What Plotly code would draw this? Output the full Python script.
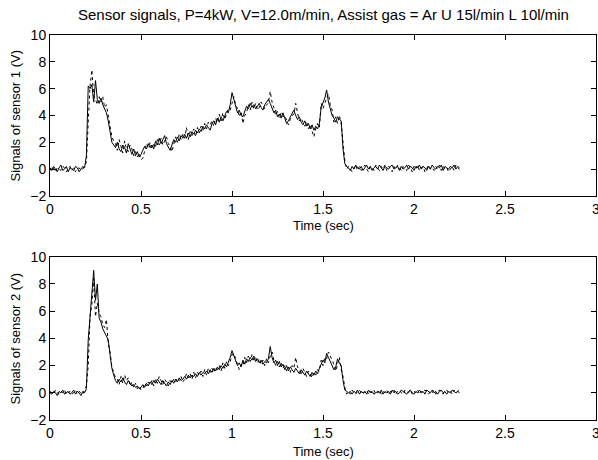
import numpy as np
import plotly.graph_objects as go
from plotly.subplots import make_subplots

# sample step 0.01 s, starting at 0.00 s (rows of 10 = 0.1 s)
s1_solid = [
    0.1,-0.1,0.2,0.0,-0.2,0.1,0.3,-0.1,0.0,0.2,
    -0.2,0.1,0.0,-0.1,0.2,0.1,-0.2,0.0,0.2,0.1,
    1.0,6.2,6.0,6.3,5.0,6.6,5.2,4.9,5.3,4.8,
    4.5,4.2,3.6,2.8,2.0,1.8,1.6,2.0,1.5,1.3,
    1.8,1.6,1.2,1.9,1.4,1.1,1.5,1.0,1.3,0.9,
    1.1,1.4,1.7,1.5,1.9,1.6,1.8,1.5,2.1,1.8,
    2.3,1.9,2.2,2.5,1.9,1.6,1.4,1.8,2.2,2.0,
    2.4,2.1,2.5,2.3,2.6,2.3,2.7,2.4,2.8,2.6,
    2.9,2.7,3.0,2.8,3.2,3.0,3.3,3.1,2.9,3.4,
    3.6,3.3,3.8,3.5,3.9,3.6,4.0,4.3,4.2,4.8,
    5.7,5.2,4.6,4.2,4.4,4.0,3.9,4.3,4.7,4.5,
    4.9,4.6,4.8,4.5,4.7,4.9,4.6,4.4,4.8,5.0,
    5.2,4.9,4.5,4.2,4.4,3.9,4.1,3.8,4.2,3.7,
    3.4,3.6,3.9,4.2,4.4,4.0,3.7,3.9,3.5,3.3,
    3.6,3.2,3.4,3.0,3.3,2.9,3.2,3.0,3.4,4.6,
    4.9,5.3,5.9,5.0,4.5,4.0,3.8,3.5,3.9,3.7,
    3.6,1.5,0.4,0.2,0.1,-0.1,0.2,0.0,0.3,0.1,
    0.0,0.2,-0.1,0.1,0.3,0.0,0.2,-0.1,0.1,0.2,
    0.0,0.3,0.1,-0.1,0.2,0.1,0.0,0.2,0.3,0.0,
    0.1,0.2,-0.1,0.2,0.0,0.1,0.3,0.0,0.2,0.1,
    -0.1,0.2,0.1,0.3,0.0,0.2,0.1,-0.1,0.2,0.0,
    0.3,0.1,0.0,0.2,0.1,0.3,-0.1,0.2,0.1,0.0,
    0.2,0.1,0.3,0.0,0.2,0.1,
]
s1_dotted = [
    -0.1,0.2,0.0,-0.2,0.1,0.0,-0.1,0.2,0.1,-0.2,
    0.0,0.2,-0.1,0.1,-0.2,0.0,0.1,-0.1,0.0,0.3,
    0.5,3.5,6.2,7.4,5.5,5.2,4.8,5.4,5.0,5.4,
    4.6,4.8,3.9,3.2,2.4,2.1,1.9,1.4,2.2,1.7,
    1.2,2.1,1.5,1.3,1.8,1.5,1.0,1.3,0.9,1.2,
    0.7,0.8,1.3,1.9,1.6,2.0,1.5,1.9,1.7,2.2,
    1.8,2.3,1.8,2.1,2.4,1.9,1.7,1.3,1.9,2.4,
    2.0,2.6,2.2,2.6,2.3,3.1,2.2,2.8,2.5,3.0,
    2.4,3.1,2.7,3.2,2.9,3.4,3.0,3.5,3.3,3.6,
    3.2,3.8,3.5,4.1,3.6,4.2,3.7,4.1,4.5,4.4,
    5.0,5.4,4.8,4.5,3.9,4.3,3.4,4.0,4.2,4.8,
    4.4,5.0,4.5,4.9,4.4,4.6,5.0,4.7,4.5,4.8,
    4.9,5.8,5.0,4.6,4.0,4.3,3.8,4.2,3.9,4.0,
    3.6,3.3,3.7,4.0,4.1,4.9,4.2,3.6,3.8,3.5,
    3.2,3.5,3.0,3.3,2.9,2.4,3.0,3.4,3.1,4.9,
    4.5,5.0,5.3,5.6,4.8,4.4,3.5,3.9,3.4,4.0,
    3.4,2.0,0.6,0.0,0.2,0.0,-0.2,0.1,0.3,-0.1,
    0.2,-0.1,0.1,0.3,0.0,-0.2,0.2,0.1,-0.1,0.3,
    0.1,-0.1,0.2,0.0,0.3,-0.1,0.2,0.1,-0.2,0.2,
    0.0,0.3,0.1,-0.1,0.2,0.0,-0.1,0.3,0.1,-0.2,
    0.2,0.0,0.3,-0.1,0.1,0.2,-0.2,0.1,0.3,0.0,
    0.1,-0.1,0.2,0.0,0.3,-0.1,0.2,0.0,0.1,-0.2,
    0.0,0.2,-0.1,0.3,0.1,0.0,
]
s2_solid = [
    0.0,-0.1,0.1,0.0,-0.2,0.1,0.0,0.2,-0.1,0.0,
    0.1,-0.1,0.0,0.2,-0.1,0.1,0.0,-0.2,0.1,0.0,
    0.3,3.9,5.4,7.0,9.0,6.8,8.0,5.5,5.2,4.7,
    4.4,4.1,3.9,2.8,1.8,1.3,0.9,0.7,1.0,0.8,
    1.1,0.8,0.6,0.9,0.7,0.5,0.6,0.4,0.5,0.3,
    0.4,0.6,0.4,0.7,0.5,0.8,0.6,0.9,0.7,1.0,
    0.8,0.6,0.9,0.7,0.5,0.8,0.6,0.9,0.7,1.0,
    0.8,1.1,0.9,1.0,1.2,1.0,1.3,1.1,1.3,1.2,
    1.4,1.2,1.5,1.3,1.5,1.4,1.6,1.4,1.7,1.5,
    1.8,1.6,1.9,1.7,2.0,1.8,2.1,1.9,2.2,2.6,
    3.1,2.7,2.3,2.0,2.2,1.9,2.4,2.1,2.5,2.3,
    2.6,2.4,2.7,2.3,2.5,2.2,2.4,2.1,2.3,2.2,
    2.5,3.4,2.6,2.2,2.4,2.0,2.3,1.9,2.1,1.7,
    2.0,1.6,1.9,1.7,1.5,1.8,1.6,1.4,1.7,1.5,
    1.3,1.6,1.4,1.2,1.5,1.3,1.6,1.4,1.8,2.1,
    2.4,2.2,2.9,2.6,2.3,2.0,1.7,1.9,2.5,2.2,
    2.0,0.9,0.2,0.1,0.0,0.1,-0.1,0.1,0.0,0.2,
    -0.1,0.1,0.0,0.1,-0.1,0.2,0.0,0.1,-0.1,0.0,
    0.1,0.0,0.2,-0.1,0.1,0.0,0.1,-0.1,0.2,0.0,
    0.1,-0.1,0.0,0.2,0.1,0.0,-0.1,0.1,0.2,0.0,
    -0.1,0.1,0.0,0.2,0.0,0.1,-0.1,0.2,0.1,0.0,
    0.2,0.0,0.1,-0.1,0.1,0.2,0.0,0.1,-0.1,0.1,
    0.0,0.2,0.1,0.0,0.1,0.0,
]
s2_dotted = [
    0.1,0.0,-0.1,0.2,0.0,-0.1,0.1,0.0,0.2,-0.1,
    0.0,0.1,-0.1,0.0,0.2,-0.1,0.1,0.0,-0.1,0.2,
    0.5,2.0,5.6,6.5,8.4,5.6,6.6,5.8,5.6,5.0,
    4.8,5.4,3.6,3.0,1.9,1.5,1.1,1.0,0.6,1.2,
    0.7,1.3,0.9,1.1,0.5,0.8,0.4,0.7,0.3,0.5,
    0.2,0.3,0.7,0.5,0.8,0.6,0.9,0.5,1.0,0.7,
    1.2,0.9,0.6,1.0,0.8,0.5,0.9,0.7,1.0,0.8,
    1.1,0.9,1.2,0.8,1.0,1.4,1.1,1.4,1.0,1.5,
    1.1,1.5,1.3,1.6,1.2,1.7,1.3,1.8,1.5,1.8,
    1.5,1.9,1.7,2.0,1.6,2.2,1.8,2.3,2.0,2.3,
    2.8,2.9,2.5,2.2,1.7,2.1,2.0,2.6,2.2,2.7,
    2.3,2.8,2.4,2.6,2.2,2.5,2.1,2.4,2.0,2.5,
    2.2,2.7,3.0,2.4,2.0,2.3,1.9,2.2,1.8,2.0,
    1.6,1.9,1.5,2.0,1.8,2.6,1.9,1.7,1.3,1.8,
    1.5,1.2,1.6,1.4,1.1,1.5,1.3,1.7,1.6,2.4,
    2.0,2.6,2.5,3.0,2.7,2.4,2.1,1.6,2.1,2.6,
    1.7,1.2,0.4,-0.1,0.1,-0.1,0.2,0.0,-0.1,0.1,
    0.2,0.0,-0.1,0.1,0.2,-0.1,0.1,0.0,0.2,-0.1,
    0.0,0.2,-0.1,0.1,0.0,0.2,-0.1,0.1,0.0,0.2,
    -0.1,0.1,0.2,0.0,-0.1,0.2,0.1,0.0,0.2,-0.1,
    0.1,0.0,0.2,-0.1,0.1,0.0,0.2,0.1,-0.1,0.1,
    0.0,0.2,-0.1,0.1,0.2,0.0,-0.1,0.1,0.2,0.0,
    0.1,-0.1,0.2,0.0,0.1,0.2,
]
dt = 0.01
x_ticks = [0, 0.5, 1, 1.5, 2, 2.5, 3]
x_ticklabels = ["0", "0.5", "1", "1.5", "2", "2.5", "3"]
y_ticks = [-2, 0, 2, 4, 6, 8, 10]
title_text = "Sensor signals, P=4kW, V=12.0m/min, Assist gas = Ar U 15l/min L 10l/min"

t = np.round(np.arange(len(s1_solid)) * dt, 2)

FONT = "Liberation Sans, Arial, sans-serif"

fig = make_subplots(rows=2, cols=1)
for row, (sol, dot) in enumerate([(s1_solid, s1_dotted), (s2_solid, s2_dotted)], start=1):
    fig.add_trace(go.Scatter(x=t, y=dot, mode="lines",
                             line=dict(color="black", width=1, dash="dot"),
                             showlegend=False), row=row, col=1)
    fig.add_trace(go.Scatter(x=t, y=sol, mode="lines",
                             line=dict(color="black", width=1),
                             showlegend=False), row=row, col=1)

axis_common = dict(showline=True, linecolor="black", linewidth=1, mirror="ticks",
                   ticks="inside", ticklen=5, tickcolor="black", tickwidth=1,
                   showgrid=False, zeroline=False, ticklabeloverflow="allow",
                   automargin=False,
                   tickfont=dict(family=FONT, size=14, color="black"))
fig.update_layout(
    xaxis=dict(domain=[0, 1], range=[0, 3], tickvals=x_ticks, ticktext=x_ticklabels, **axis_common),
    xaxis2=dict(domain=[0, 1], range=[0, 3], tickvals=x_ticks, ticktext=x_ticklabels, **axis_common),
    yaxis=dict(domain=[0.582, 1], range=[-2, 10], tickvals=y_ticks, **axis_common),
    yaxis2=dict(domain=[0, 0.424], range=[-2, 10], tickvals=y_ticks, **axis_common),
    width=598, height=460,
    margin=dict(l=50, r=2, t=35, b=40),
    paper_bgcolor="white", plot_bgcolor="white",
    font=dict(family=FONT, size=13, color="black"),
)

ann = []
ann.append(dict(text=title_text, x=0.5, y=1.0545, xref="paper", yref="paper",
                xanchor="center", yanchor="middle", showarrow=False,
                font=dict(family=FONT, size=15)))
for y, txt in [(0.505, "Time (sec)"), (-0.081, "Time (sec)")]:
    ann.append(dict(text=txt, x=0.5, y=y, xref="paper", yref="paper",
                    xanchor="center", yanchor="middle", showarrow=False,
                    font=dict(family=FONT, size=13)))
for y, txt in [(0.791, "Signals of sensor 1 (V)"), (0.212, "Signals of sensor 2 (V)")]:
    ann.append(dict(text=txt, x=-0.064, y=y, xref="paper", yref="paper",
                    xanchor="center", yanchor="middle", textangle=-90, showarrow=False,
                    font=dict(family=FONT, size=13)))
fig.update_layout(annotations=ann)

fig.write_html("out.html")
